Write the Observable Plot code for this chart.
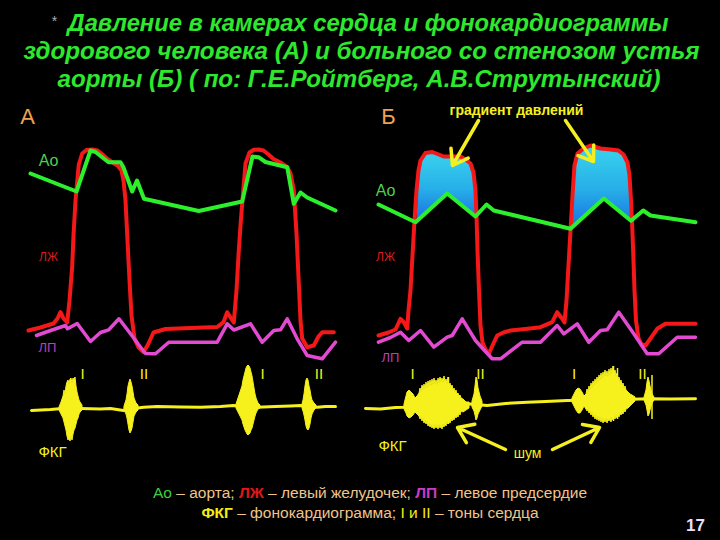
<!DOCTYPE html>
<html>
<head>
<meta charset="utf-8">
<script src="https://cdn.jsdelivr.net/npm/d3@7"></script>
<script src="https://cdn.jsdelivr.net/npm/@observablehq/plot@0.6"></script>
<style>
  html, body { margin: 0; padding: 0; background: #000; }
  #wrap { position: relative; width: 720px; height: 540px; overflow: hidden; background: #000; }
  #legend { position: absolute; left: 70px; width: 600px; top: 483px; text-align: center;
            font-family: "Liberation Sans", Arial, sans-serif; font-size: 15.5px; line-height: 20px; color: #f0c48c; }
  #legend .ao { color: #3fcf3f; }
  #legend .lv { color: #e01818; font-weight: bold; }
  #legend .la { color: #c83cc8; font-weight: bold; }
  #legend .pcg { color: #f4ee10; font-weight: bold; }
  #legend .tone { color: #f4ee10; }
  #pagenum { position: absolute; left: 686px; top: 516px; font-family: "Liberation Sans", Arial, sans-serif;
             font-size: 17px; font-weight: bold; color: #eadfff; }
</style>
</head>
<body>
<div id="wrap"></div>
<script>
// ---------- texts ----------
const titleLines = [
  "Давление в камерах сердца и фонокардиограммы",
  "здорового человека (А) и больного со стенозом устья",
  "аорты (Б) ( по: Г.Е.Ройтберг, А.В.Струтынский)"
];
const panelNames = ["А", "Б"];
const traceNames = ["Ао", "ЛЖ", "ЛП", "ФКГ"];
const toneNames = ["I", "II"];
const gradientText = "градиент давлений";
const murmurText = "шум";

// ---------- panel А (healthy) : [time, level] ----------
const aortaA = [[30,173],[76,191],[90,150],[95,151.5],[108,161.7],[120,161.7],[123,167],[131.7,191],[136.5,180],[143.5,198.3],[198.3,210.5],[241.7,201],[252,156],[258,156.7],[265,161.5],[286.7,166.7],[293.3,203.3],[300,192],[306.7,197],[335,210]];
const lvA = [[28,330],[40,327],[53,323],[57,318],[60,311.7],[63,318],[66.7,322],[69,300],[71.7,266],[73,235],[75,200],[78.3,164],[81.7,153],[86,149.5],[92,149],[97,150],[102,154],[107,158.5],[112,162],[117,165],[121,170],[123,180],[125,200],[127,240],[129,280],[131,315],[134,338],[138,347],[143,351.5],[147,345],[153,332],[165,328.5],[190,327.5],[216.7,326.5],[223,321.7],[226.7,311.7],[230,317],[233.3,322],[236,290],[238.3,250],[240,225],[241.7,203],[245,163],[249,152],[253.3,149.3],[258,149],[263,150],[268,154],[273,158.5],[280,162],[286.7,166.7],[290,173],[293.3,190],[296,233],[298.3,283],[300,320],[301.7,338],[306.7,346.7],[313.3,345],[318,336],[321.7,331.7],[333.3,331.7]];
const laA = [[36,335],[50,330],[65,325],[67,328.3],[76.7,323],[90,341],[100,332],[108.3,329.3],[118.5,318.3],[131.7,335.5],[138,344],[145,353],[155,353.3],[168.3,341.7],[216.7,341.7],[226.7,323.3],[233.3,329.5],[250,323.3],[261.7,341.7],[273.3,330],[280,329.3],[286.7,318.3],[296.7,338.3],[306.7,355],[321.7,358.3],[335,341.7]];

// ---------- panel Б (aortic stenosis) ----------
const aortaB = [[378,204],[415,221.7],[446.7,193],[475,216],[486,204],[493.3,210],[570,228.3],[603.3,198],[630.5,220.3],[642.7,210],[650,215],[695,221.7]];
const lvB = [[378,335],[388,332],[395,329],[400,318.3],[403.3,321.7],[406.7,328],[408,310],[410,290],[412,255],[414,220],[416,190],[418,170],[420,160],[425,152.5],[431.7,151.5],[437,153.5],[443,156],[452,156],[460,156],[465,159],[470,163],[473,172],[475,190],[476,215],[477,250],[478.5,290],[480,325],[482,342],[485,349],[488.3,353.3],[492,345],[496.7,335],[503,332],[510,330],[525,328.5],[540,326.7],[551.7,321.7],[556.7,311.7],[561.7,318.3],[564,322],[566,300],[568,265],[570,230],[572,195],[574,165],[577,153],[583,148],[590,145],[600,148],[610,149],[618,150],[623,154],[627,162],[629,175],[630.5,200],[631.7,225],[633,260],[634,290],[635.5,320],[638,338],[641,344],[645,345],[650,338],[656.7,328.3],[665,323.3],[695,323.3]];
const laB = [[378,341.7],[390,337],[400,331.7],[408.3,340],[420,330],[433.3,346.7],[446.7,336.7],[451.7,335],[461.7,318.3],[475,340],[484,350],[491.7,358.3],[500,358.3],[521.7,341.7],[540,341.7],[556.7,325],[563.3,333.3],[576.7,323.3],[588.3,341.7],[600,330],[606.7,329.3],[618.3,311.7],[633.3,333.3],[646.7,353.3],[658.3,353.3],[676.7,336.7],[695,336.7]];
// systolic gradient: [time, aortic level, LV level]
const gradient1 = [[416.5,221,221],[418,220.5,185],[420,219.5,161],[425,215,153],[431,208.5,151.5],[437,202,153.5],[443,196.5,156],[447,193,156],[453,198,156],[460,203.5,156],[465,207.5,159],[470,212,163],[473,214.5,172],[475,216,190],[476,216.5,216.5]];
const gradient2 = [[571.5,227,227],[573,226,190],[575,224,162],[577,222.5,153],[583,217,148],[590,210.5,145],[596,205,147],[600,201.5,148],[603,198.5,148.5],[610,204,149],[618,210.5,150],[623,214.5,154],[627,218,162],[629,219.5,175],[630.3,220.3,215]];

// ---------- phonocardiograms ----------
const pcgBaseA = [[31,410],[50,409],[62,408],[80,408],[100,408.5],[110,408],[123,410],[133,408],[143.3,406.7],[156.7,406],[180,406.5],[200,406.7],[220,406],[233,405],[245,406],[256.7,406.7],[275,406],[290,405.5],[300,405],[316.7,406.7],[325,406],[335,406]];
const pcgBaseB = [[365,408],[380,408.5],[395,407],[403,406.7],[430,405],[466.7,403.3],[486.7,405],[505,403],[526.7,401.7],[545,401],[566.7,400],[600,399.5],[650,398.3],[670,398.5],[695,398.3]];
// bursts: [time, upper, lower]
const burstsA = [
  [[59,407,410],[61,402,414],[63,396,418],[64,390,422],[65,394,426],[66,386,430],[67,382,436],[68,380,440],[69,384,438],[70,379,441],[71,378,436],[72,383,440],[73,378,434],[74,380,430],[75,377,428],[76,386,424],[77,392,420],[78,396,418],[79,400,414],[80,402,412],[82,405,410]],
  [[124,406,410],[126,400,414],[127,394,418],[128,386,424],[129,382,430],[130,379,433],[131,382,431],[132,386,428],[133,392,422],[134,398,416],[136,403,412],[138,405,410]],
  [[236,404,408],[238,398,412],[240,392,416],[242,386,420],[243,380,424],[244,376,427],[245,372,430],[246,368,432],[247,366,434],[248,365,435],[249,366,434],[250,368,433],[251,372,430],[252,376,428],[253,382,424],[254,388,420],[255,394,416],[256,398,413],[258,403,409],[260,405,408]],
  [[302,404,408],[303,400,411],[304,394,415],[305,386,420],[306,380,426],[307,378,429],[308,380,430],[309,386,428],[310,390,424],[311,396,418],[312,400,414],[314,403,410],[316,405,408]]
];
const burstsB = [
  [[404,404,409],[406,396,413],[407,392,416],[409,390,418],[411,392,417],[413,394,415],[415,398,412],[417,396,414],[419,393,416],[420,388,419],[421,392,417],[422,385,421],[423,390,418],[424,384,423],[425,389,420],[426,382,424],[427,388,421],[428,381,426],[429,386,423],[430,380,427],[431,386,424],[432,379,428],[433,385,425],[434,378,429],[435,384,424],[436,380,428],[437,385,425],[438,378,429],[439,383,424],[440,377,428],[441,382,425],[442,378,429],[443,383,424],[444,376,427],[445,381,423],[446,379,426],[447,384,421],[448,377,424],[449,386,420],[450,383,423],[451,388,419],[452,385,421],[453,390,418],[454,388,420],[455,392,416],[456,390,418],[457,394,415],[458,393,417],[459,396,413],[460,395,415],[461,398,411],[463,399,412],[466,402,410],[469,402,408]],
  [[472,401,407],[474,394,411],[475,386,415],[476,377,420],[477,380,418],[478,388,414],[480,396,410],[482,401,406]],
  [[572,398,402],[574,394,406],[576,390,410],[578,388,413],[580,389,413],[582,392,410],[584,396,406],[586,394,409],[587,389,411],[588,392,409],[589,386,413],[590,390,411],[591,383,415],[592,388,412],[593,381,417],[594,386,414],[595,379,419],[596,384,415],[597,377,420],[598,382,416],[599,375,421],[600,380,417],[601,373,422],[602,379,418],[603,372,423],[604,377,419],[605,370,422],[606,376,418],[607,371,423],[608,377,419],[609,369,421],[610,375,418],[611,368,422],[612,374,417],[613,366,420],[614,373,416],[615,370,419],[616,376,415],[617,373,418],[618,379,414],[619,377,417],[620,382,413],[621,380,415],[622,385,412],[623,383,414],[624,388,410],[625,386,412],[626,390,409],[628,392,408],[630,394,406],[632,395,404],[635,397,401]],
  [[644,397,400],[646,390,405],[647,382,410],[648,377,416],[649,381,414],[650,386,410],[652,394,403],[654,397,400]]
];
const spikesB = [[448,377,424],[613,366,421],[617,368,419],[651.5,375,419]];

// ---------- colours ----------
const C = {ao: "#2cf02c", lv: "#f41818", la: "#e24ad2", pcg: "#f6f01c", panel: "#f0a050",
           aoLbl: "#4ed04e", lvLbl: "#dc1c1c", laLbl: "#b840b8", title: "#2ee82e"};

const px = d => d[0], py = d => d[1];
const line = (data, stroke, w) => Plot.line(data, {x: px, y: py, stroke, strokeWidth: w, strokeLinejoin: "round", strokeLinecap: "round"});
const txt = (s, x, y, o) => Plot.text([s], {x, y, text: d => d, fontFamily: "Liberation Sans, Arial, sans-serif", ...o});

const defs = () => {
  const d = d3.create("svg:defs");
  const g = d.append("linearGradient").attr("id", "grad").attr("x1", 0).attr("y1", 0).attr("x2", 0).attr("y2", 1);
  g.append("stop").attr("offset", "0%").attr("stop-color", "#3ad4ee");
  g.append("stop").attr("offset", "55%").attr("stop-color", "#26aee8");
  g.append("stop").attr("offset", "100%").attr("stop-color", "#1a70e2");
  return d.node();
};

const marks = [defs];
// gradient fills
for (const g of [gradient1, gradient2])
  marks.push(Plot.areaY(g, {x: d => d[0], y1: d => d[1], y2: d => d[2], fill: "url(#grad)"}));
// pressure traces
for (const d of [lvA, lvB]) marks.push(line(d, C.lv, 4));
for (const d of [laA, laB]) marks.push(line(d, C.la, 3.5));
for (const d of [aortaA, aortaB]) marks.push(line(d, C.ao, 4));
// phonocardiograms
for (const d of [pcgBaseA, pcgBaseB]) marks.push(line(d, C.pcg, 3));
for (const b of [...burstsA, ...burstsB])
  marks.push(Plot.areaY(b, {x: d => d[0], y1: d => d[1], y2: d => d[2], fill: C.pcg, stroke: C.pcg, strokeWidth: 1}));
marks.push(Plot.ruleX(spikesB, {x: d => d[0], y1: d => d[1], y2: d => d[2], stroke: C.pcg, strokeWidth: 1.5}));

// arrows
marks.push(Plot.arrow([[478,120,452,165],[565,120,593,161]], {x1: d => d[0], y1: d => d[1], x2: d => d[2], y2: d => d[3], stroke: "#f4f020", strokeWidth: 3.5, headLength: 12, headAngle: 70}));
marks.push(Plot.arrow([[505,449,457,427],[552,449,599,427]], {x1: d => d[0], y1: d => d[1], x2: d => d[2], y2: d => d[3], stroke: "#f4f020", strokeWidth: 3.5, headLength: 12, headAngle: 70}));

// title
const T = {fontWeight: "bold", fontStyle: "italic", fontSize: 23, fill: C.title};
marks.push(txt("*", 54, 21, {fontSize: 14, fill: "#b0b0b0"}));
marks.push(txt(titleLines[0], 367.5, 23, T));
marks.push(txt(titleLines[1], 361, 51, T));
marks.push(txt(titleLines[2], 358.5, 79, T));

// panel labels
marks.push(txt(panelNames[0], 27, 116, {fontSize: 22, fill: C.panel}));
marks.push(txt(panelNames[1], 388, 116, {fontSize: 22, fill: C.panel}));
marks.push(txt(gradientText, 516, 110, {fontSize: 14, fontWeight: "bold", fill: "#f6f020"}));
marks.push(txt(traceNames[0], 48, 160, {fontSize: 16, fill: C.aoLbl}));
marks.push(txt(traceNames[0], 385, 190, {fontSize: 16, fill: C.aoLbl}));
marks.push(txt(traceNames[1], 48, 257, {fontSize: 12, fill: C.lvLbl}));
marks.push(txt(traceNames[1], 385, 257, {fontSize: 12, fill: C.lvLbl}));
marks.push(txt(traceNames[2], 47, 347, {fontSize: 13, fill: C.laLbl}));
marks.push(txt(traceNames[2], 390, 357, {fontSize: 13, fill: C.laLbl}));
marks.push(txt(traceNames[3], 52, 452, {fontSize: 15, fill: C.pcg}));
marks.push(txt(traceNames[3], 392, 446, {fontSize: 15, fill: C.pcg}));
marks.push(txt(murmurText, 527, 453, {fontSize: 14, fill: C.pcg}));
// heart tones
const tonePos = [[82,0],[143.5,1],[262,0],[318.5,1],[412,0],[480,1],[573.5,0],[642,1]];
marks.push(Plot.text(tonePos, {x: d => d[0], y: 374, text: d => toneNames[d[1]], fontSize: 15, fill: C.pcg, fontFamily: "Liberation Sans, Arial, sans-serif"}));

const chart = Plot.plot({
  width: 720, height: 540, margin: 0,
  x: {domain: [0, 720], range: [0, 720], axis: null},
  y: {domain: [0, 540], range: [0, 540], axis: null},
  style: {background: "#000", color: "#fff", overflow: "visible"},
  marks
});

// fit title lines to their measured widths
const titleWidths = new Map([[titleLines[0], 601], [titleLines[1], 676], [titleLines[2], 603]]);
d3.select(chart).selectAll("text").each(function () {
  const w = titleWidths.get(this.textContent);
  if (w) { this.setAttribute("textLength", w); this.setAttribute("lengthAdjust", "spacingAndGlyphs"); }
});

const wrap = document.getElementById("wrap");
wrap.appendChild(chart);
const legend = document.createElement("div");
legend.id = "legend";
legend.innerHTML = '<span class="ao">Ао</span> – аорта; <span class="lv">ЛЖ</span> – левый желудочек; <span class="la">ЛП</span> – левое предсердие<br>' +
  '<span class="pcg">ФКГ</span> – фонокардиограмма; <span class="tone">I и II</span> – тоны сердца';
wrap.appendChild(legend);
const pn = document.createElement("div");
pn.id = "pagenum"; pn.textContent = "17";
wrap.appendChild(pn);
</script>
</body>
</html>
